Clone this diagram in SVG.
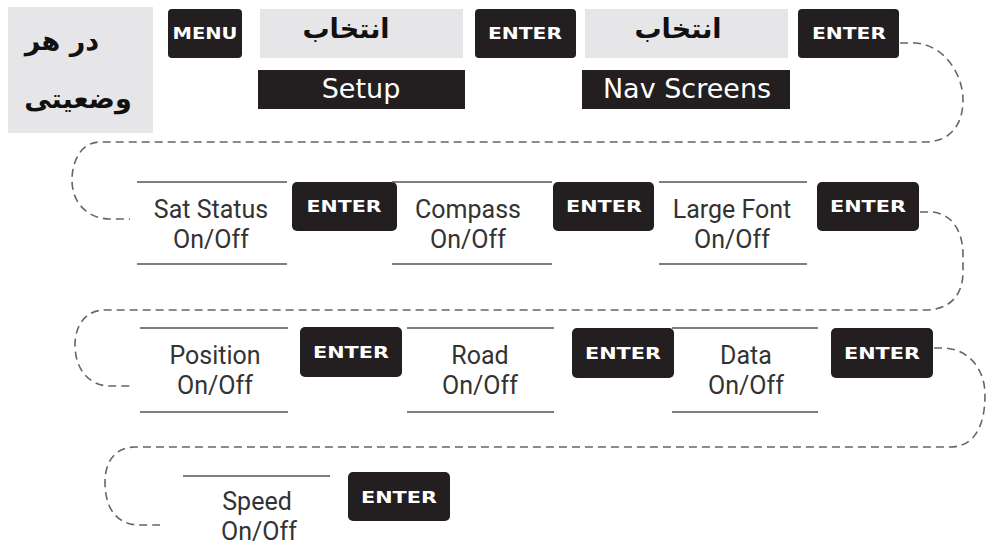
<svg xmlns="http://www.w3.org/2000/svg" width="987" height="547" viewBox="0 0 987 547">
<style>
.gray{fill:#e6e6e8}
.key{fill:#231f20}
.keyt{font-family:"DejaVu Sans",sans-serif;font-weight:bold;font-size:15px;fill:#fff;text-anchor:middle}
.ar{font-family:"DejaVu Sans",sans-serif;font-weight:bold;font-size:27px;fill:#111;text-anchor:middle}
.lbl{font-family:"DejaVu Sans",sans-serif;font-size:27px;fill:#fff;text-anchor:middle}
.opt{font-family:Roboto,"Liberation Sans",sans-serif;font-size:25px;fill:#333;text-anchor:middle}
.rule{stroke:#555;stroke-width:1.6;fill:none}
.dash{stroke:#666;stroke-width:1.6;fill:none;stroke-dasharray:8 5}
</style>
<rect width="987" height="547" fill="#fff"/>
<g id="connectors">
<path class="dash" d="M900,43 H915 C945,45 963,75 963,100 C963,125 950,142 925,142 H100 C82,142 72,160 72,180 C72,205 90,219 110,219 H130"/>
<path class="dash" d="M920,212 H933 C955,215 963,235 963,255 L963,272 C963,295 950,310 925,310 H105 C86,310 75,325 75,345 C75,370 90,386 110,386 H132"/>
<path class="dash" d="M934,348 H945 C970,350 985,370 985,395 C985,425 975,447 950,447 H135 C115,447 105,462 105,482 C105,510 118,525 140,525 H160"/>
</g>
<g id="anyState">
<rect class="gray" x="8" y="7" width="145" height="126"/>
<text class="ar" x="62" y="50" direction="rtl">در هر</text>
<text class="ar" x="78" y="108" direction="rtl">وضعیتی</text>
</g>
<g id="menu">
<rect class="key" x="168" y="9" width="74" height="49" rx="4"/>
<text class="keyt" x="205" y="39" textLength="65" lengthAdjust="spacingAndGlyphs">MENU</text>
</g>
<g id="select1">
<rect class="gray" x="260" y="9" width="203" height="49"/>
<text class="ar" x="346" y="38" direction="rtl">انتخاب</text>
</g>
<g id="setup">
<rect class="key" x="258" y="70" width="207" height="39"/>
<text class="lbl" x="361" y="98">Setup</text>
</g>
<g id="enter1">
<rect class="key" x="475" y="9" width="101" height="49" rx="4"/>
<text class="keyt" x="525" y="39" textLength="74" lengthAdjust="spacingAndGlyphs">ENTER</text>
</g>
<g id="select2">
<rect class="gray" x="585" y="9" width="203" height="49"/>
<text class="ar" x="678" y="38" direction="rtl">انتخاب</text>
</g>
<g id="navScreens">
<rect class="key" x="582" y="70" width="208" height="39"/>
<text class="lbl" x="687" y="98">Nav Screens</text>
</g>
<g id="enter2">
<rect class="key" x="798" y="9" width="101" height="49" rx="4"/>
<text class="keyt" x="849" y="39" textLength="74" lengthAdjust="spacingAndGlyphs">ENTER</text>
</g>
<g id="satStatus">
<line class="rule" x1="137" y1="182" x2="287" y2="182"/>
<line class="rule" x1="137" y1="264" x2="287" y2="264"/>
<text class="opt" x="211" y="218">Sat Status</text>
<text class="opt" x="211" y="248">On/Off</text>
</g>
<g id="enter3">
<rect class="key" x="292" y="182" width="105" height="49" rx="5"/>
<text class="keyt" x="344" y="212" textLength="75" lengthAdjust="spacingAndGlyphs">ENTER</text>
</g>
<g id="compass">
<line class="rule" x1="392" y1="182" x2="552" y2="182"/>
<line class="rule" x1="392" y1="264" x2="552" y2="264"/>
<text class="opt" x="468" y="218">Compass</text>
<text class="opt" x="468" y="248">On/Off</text>
</g>
<g id="enter4">
<rect class="key" x="553" y="182" width="101" height="49" rx="5"/>
<text class="keyt" x="604" y="212" textLength="76" lengthAdjust="spacingAndGlyphs">ENTER</text>
</g>
<g id="largeFont">
<line class="rule" x1="659" y1="182" x2="807" y2="182"/>
<line class="rule" x1="659" y1="264" x2="807" y2="264"/>
<text class="opt" x="732" y="218">Large Font</text>
<text class="opt" x="732" y="248">On/Off</text>
</g>
<g id="enter5">
<rect class="key" x="817" y="182" width="102" height="49" rx="5"/>
<text class="keyt" x="868" y="212" textLength="76" lengthAdjust="spacingAndGlyphs">ENTER</text>
</g>
<g id="position">
<line class="rule" x1="140" y1="328" x2="288" y2="328"/>
<line class="rule" x1="140" y1="412" x2="288" y2="412"/>
<text class="opt" x="215" y="364">Position</text>
<text class="opt" x="215" y="394">On/Off</text>
</g>
<g id="enter6">
<rect class="key" x="300" y="327" width="102" height="50" rx="5"/>
<text class="keyt" x="351" y="358" textLength="76" lengthAdjust="spacingAndGlyphs">ENTER</text>
</g>
<g id="road">
<line class="rule" x1="407" y1="328" x2="554" y2="328"/>
<line class="rule" x1="407" y1="412" x2="554" y2="412"/>
<text class="opt" x="480" y="364">Road</text>
<text class="opt" x="480" y="394">On/Off</text>
</g>
<g id="enter7">
<rect class="key" x="572" y="328" width="102" height="50" rx="5"/>
<text class="keyt" x="623" y="359" textLength="76" lengthAdjust="spacingAndGlyphs">ENTER</text>
</g>
<g id="data">
<line class="rule" x1="672" y1="328" x2="818" y2="328"/>
<line class="rule" x1="672" y1="412" x2="818" y2="412"/>
<text class="opt" x="746" y="364">Data</text>
<text class="opt" x="746" y="394">On/Off</text>
</g>
<g id="enter8">
<rect class="key" x="831" y="328" width="102" height="50" rx="5"/>
<text class="keyt" x="882" y="359" textLength="76" lengthAdjust="spacingAndGlyphs">ENTER</text>
</g>
<g id="speed">
<line class="rule" x1="183" y1="476" x2="330" y2="476"/>
<text class="opt" x="257" y="510">Speed</text>
<text class="opt" x="259" y="540">On/Off</text>
</g>
<g id="enter9">
<rect class="key" x="348" y="472" width="102" height="49" rx="5"/>
<text class="keyt" x="399" y="503" textLength="76" lengthAdjust="spacingAndGlyphs">ENTER</text>
</g>
</svg>
